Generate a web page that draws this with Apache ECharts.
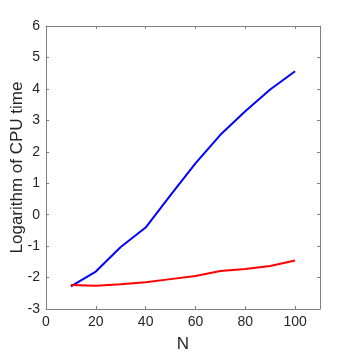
<!DOCTYPE html>
<html>
<head>
<meta charset="UTF-8">
<script src="https://cdn.jsdelivr.net/npm/echarts@6/dist/echarts.min.js"></script>
<title>CPU time</title>
</head>
<body style="margin:0">
<div id="main" style="width:354px;height:354px"></div>
<script>
    // N values and log CPU time for the two methods
    var nVals = [10, 20, 30, 40, 50, 60, 70, 80, 90, 100];
    var blueVals = [-2.28, -1.81, -1.03, -0.41, 0.62, 1.63, 2.54, 3.29, 3.98, 4.56];
    var redVals = [-2.24, -2.26, -2.21, -2.15, -2.05, -1.95, -1.79, -1.73, -1.63, -1.46];

    function pairs(xs, ys) {
        return xs.map(function (x, i) { return [x, ys[i]]; });
    }

    var axisGray = '#808080';
    var textCol = '#262626';
    var font = 'Liberation Sans, Arial, sans-serif';

    var chart = echarts.init(document.getElementById('main'));
    var option = {
        animation: false,
        grid: {left: 46, right: 34, top: 26, bottom: 45, outerBoundsMode: 'none', containLabel: false},
        xAxis: [{
            type: 'value', min: 0, max: 110, interval: 20,
            name: 'N', nameLocation: 'middle', nameGap: 27,
            nameTextStyle: {color: textCol, fontSize: 17, fontFamily: font},
            axisLine: {onZero: false, lineStyle: {color: axisGray}},
            axisTick: {inside: true, length: 3, lineStyle: {color: axisGray}},
            axisLabel: {color: textCol, fontSize: 14, fontFamily: font, margin: 6, showMaxLabel: false},
            splitLine: {show: false}
        }, {
            type: 'value', min: 0, max: 110, interval: 20, position: 'top',
            axisLine: {show: true, onZero: false, lineStyle: {color: axisGray}},
            axisTick: {show: true, inside: true, length: 3, lineStyle: {color: axisGray}},
            axisLabel: {show: false},
            splitLine: {show: false}
        }],
        yAxis: [{
            type: 'value', min: -3, max: 6, interval: 1,
            name: 'Logarithm of CPU time', nameLocation: 'middle', nameGap: 20,
            nameMoveOverlap: false,
            nameTextStyle: {color: textCol, fontSize: 17, fontFamily: font},
            axisLine: {show: true, onZero: false, lineStyle: {color: axisGray}},
            axisTick: {show: true, inside: true, length: 3, lineStyle: {color: axisGray}},
            axisLabel: {color: textCol, fontSize: 14, fontFamily: font, margin: 6},
            splitLine: {show: false}
        }, {
            type: 'value', min: -3, max: 6, interval: 1, position: 'right',
            axisLine: {show: true, onZero: false, lineStyle: {color: axisGray}},
            axisTick: {show: true, inside: true, length: 3, lineStyle: {color: axisGray}},
            axisLabel: {show: false},
            splitLine: {show: false}
        }],
        series: [{
            type: 'line', data: pairs(nVals, blueVals), showSymbol: false,
            lineStyle: {color: '#0000ff', width: 2}
        }, {
            type: 'line', data: pairs(nVals, redVals), showSymbol: false,
            lineStyle: {color: '#ff0000', width: 2}
        }]
    };
    chart.setOption(option);
</script>
</body>
</html>
